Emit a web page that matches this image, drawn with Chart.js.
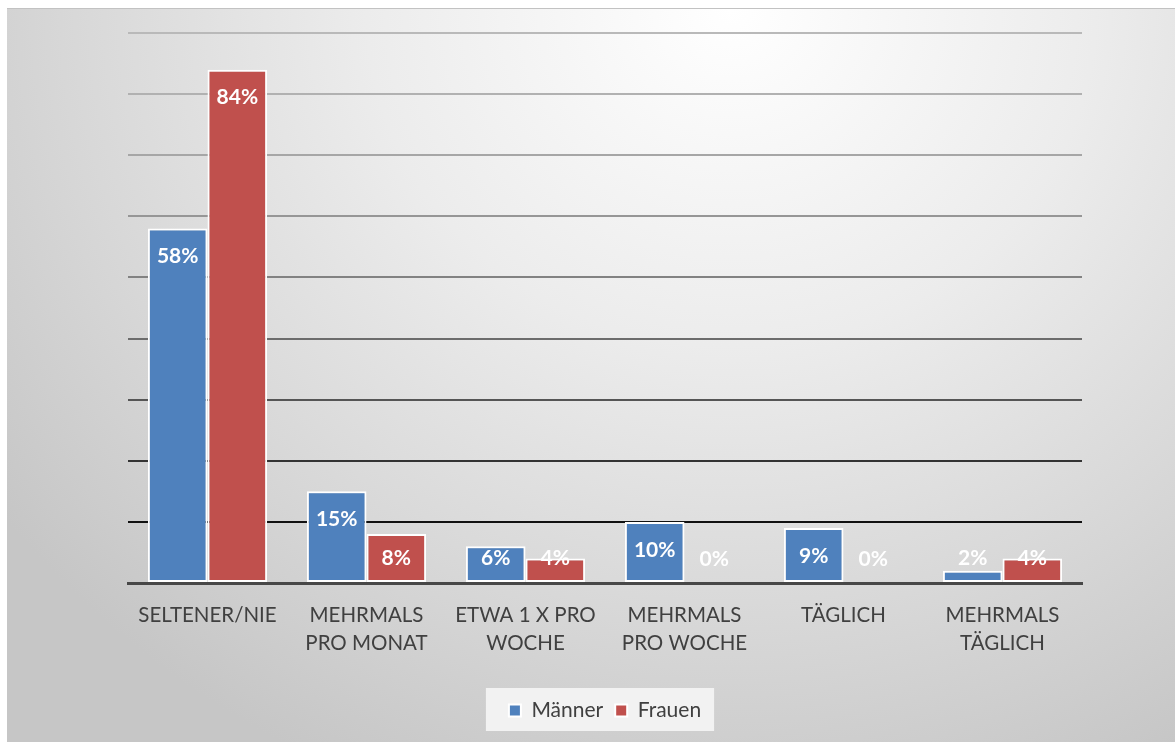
<!DOCTYPE html>
<html>
<head>
<meta charset="utf-8">
<script src="https://cdn.jsdelivr.net/npm/chart.js@4.4.1/dist/chart.umd.min.js"></script>
<style>
  html, body { margin: 0; padding: 0; background: #ffffff; }
  #frame {
    position: absolute; left: 7px; top: 8px; width: 1168px; height: 734px;
    box-sizing: border-box;
    border-top: 1px solid #c2c2c2;
    background: radial-gradient(ellipse 78% 115% at 62% 0%, #ffffff 0%, #ececec 40%, #d8d8d8 72%, #c6c6c6 100%);
  }
  canvas { display: block; }
</style>
</head>
<body>
<div id="frame"><canvas id="c" width="1168" height="733"></canvas></div>
<script>
// Häufigkeit nach Geschlecht (Anteile in %)
const categories = [
  ['SELTENER/NIE'],
  ['MEHRMALS', 'PRO MONAT'],
  ['ETWA 1 X PRO', 'WOCHE'],
  ['MEHRMALS', 'PRO WOCHE'],
  ['TÄGLICH'],
  ['MEHRMALS', 'TÄGLICH']
];
const maenner = [58, 15, 6, 10, 9, 2];
const frauen  = [84, 8, 4, 0, 0, 4];
const seriesNames = ['Männer', 'Frauen'];

const FONT = 'Lato, "Open Sans", sans-serif';

// gridline shades: dark near the baseline, lighter towards the top
const gridShades = ['#474747', '#111111', '#333333', '#555555', '#6c6c6c', '#828282', '#969696', '#a6a6a6', '#b1b1b1', '#b9b9b9'];

const valueLabels = {
  id: 'valueLabels',
  afterDatasetsDraw(chart) {
    const ctx = chart.ctx;
    ctx.save();
    ctx.font = 'bold 21px ' + FONT;
    ctx.fillStyle = '#ffffff';
    ctx.textAlign = 'center';
    ctx.textBaseline = 'middle';
    chart.data.datasets.forEach((ds, i) => {
      chart.getDatasetMeta(i).data.forEach((bar, j) => {
        const y = Math.min(bar.y + 28, bar.base - 24);
        ctx.fillText(ds.data[j] + '%', bar.x, y);
      });
    });
    ctx.restore();
  }
};

const legendPanel = {
  id: 'legendPanel',
  beforeDraw(chart) {
    const boxes = chart.legend && chart.legend.legendHitBoxes;
    if (!boxes || !boxes.length) return;
    const left = Math.min(...boxes.map(b => b.left)) - 23;
    const right = Math.max(...boxes.map(b => b.left + b.width)) + 13;
    const top = chart.legend.top;
    const ctx = chart.ctx;
    ctx.save();
    ctx.fillStyle = '#f2f2f2';
    ctx.fillRect(left, top, right - left, chart.legend.height);
    ctx.restore();
  }
};

new Chart(document.getElementById('c'), {
  type: 'bar',
  data: {
    labels: categories,
    datasets: [
      { label: seriesNames[0], data: maenner, backgroundColor: '#4f81bd', borderColor: '#ffffff', borderWidth: 2, borderSkipped: false },
      { label: seriesNames[1], data: frauen,  backgroundColor: '#c0504d', borderColor: '#ffffff', borderWidth: 2, borderSkipped: false }
    ]
  },
  options: {
    responsive: false,
    animation: false,
    layout: { padding: { left: 121, right: 93, top: 24, bottom: 11 } },
    datasets: { bar: { categoryPercentage: 0.75, barPercentage: 1.0 } },
    scales: {
      x: {
        grid: { display: false },
        border: { display: true, color: '#474747', width: 3 },
        ticks: { color: '#404040', font: { family: FONT, size: 20.5, lineHeight: 1.37 }, padding: 10, maxRotation: 0, autoSkip: false },
        afterFit(scale) { scale.height = 105; }
      },
      y: {
        min: 0, max: 90,
        ticks: { display: false, stepSize: 10 },
        border: { display: false },
        grid: {
          drawTicks: false,
          lineWidth: 2,
          color: (c) => gridShades[c.index] || '#b9b9b9'
        },
        afterFit(scale) { scale.width = 0; }
      }
    },
    plugins: {
      legend: {
        position: 'bottom',
        labels: {
          color: '#404040',
          font: { family: FONT, size: 21 },
          boxWidth: 12, boxHeight: 12,
          padding: 12
        }
      },
      tooltip: { enabled: false }
    }
  },
  plugins: [legendPanel, valueLabels]
});
</script>
</body>
</html>
